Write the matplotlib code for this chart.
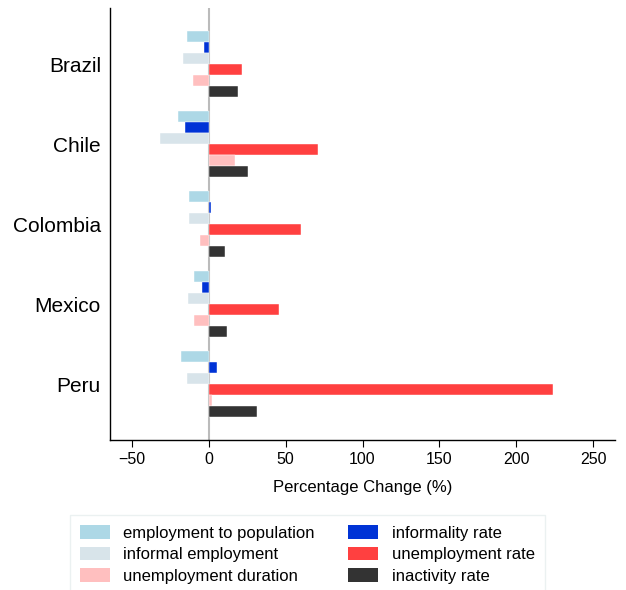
import numpy as np
import matplotlib.pyplot as plt
from matplotlib.patches import Patch

plt.rcParams['font.family'] = ['Liberation Sans', 'DejaVu Sans']

countries = ['Brazil', 'Chile', 'Colombia', 'Mexico', 'Peru']
series = ['employment to population', 'informality rate', 'informal employment',
          'unemployment rate', 'unemployment duration', 'inactivity rate']
colors = ['#add8e6', '#0033d6', '#d8e4ea', '#ff4040', '#ffbfbf', '#333333']

emp_to_pop = [-13.8, -19.7, -12.5, -9.3, -17.7]
informality = [-2.8, -15.1, 1.5, -4.1, 5.6]
informal_emp = [-16.4, -31.3, -12.5, -13.2, -13.8]
unemp_rate = [21.9, 71.2, 60.1, 45.9, 223.6]
unemp_duration = [-9.9, 17.3, -5.4, -9.3, 2.4]
inactivity = [19.3, 25.8, 10.8, 12.1, 31.6]

values = [emp_to_pop, informality, informal_emp, unemp_rate, unemp_duration, inactivity]

fig = plt.figure(figsize=(6.26, 5.9), dpi=100)
ax = fig.add_axes([110 / 626, 1 - 440 / 590, 505 / 626, 432 / 590])

pos = np.arange(len(countries))
h = 0.1375
for i, (name, vals, c) in enumerate(zip(series, values, colors)):
    ax.barh(pos + (i - 2.5) * h, vals, height=h, color=c, edgecolor='white',
            linewidth=0.3, zorder=2, label=name)

ax.axvline(0, color='#bbbbbb', linewidth=1.5, zorder=1)

ax.set_ylim(4.7, -0.7)
ax.set_xlim(-64, 264)
ax.set_yticks(pos)
ax.set_yticklabels(countries, fontsize=15)
ax.set_xticks([-50, 0, 50, 100, 150, 200, 250])
ax.set_xticklabels(['\u221250', '0', '50', '100', '150', '200', '250'], fontsize=11.5)
ax.tick_params(axis='y', length=0, pad=6.5)
ax.tick_params(axis='x', length=5, width=0.8, pad=4)
ax.set_xlabel('Percentage Change (%)', fontsize=12, labelpad=9)

for s in ['top', 'right']:
    ax.spines[s].set_visible(False)
for s in ['left', 'bottom']:
    ax.spines[s].set_linewidth(1.0)

# legend filled row-wise like the original
order = [0, 2, 4, 1, 3, 5]
handles = [Patch(facecolor=colors[k], edgecolor='none') for k in order]
labels = [series[k] for k in order]
leg = fig.legend(handles, labels, loc='upper left',
                 bbox_to_anchor=(70 / 626, 1 - 515 / 590), ncol=2,
                 fontsize=12, frameon=True, fancybox=False, borderaxespad=0,
                 handlelength=1.8, handleheight=0.9, handletextpad=0.8,
                 columnspacing=2.0, labelspacing=0.35, borderpad=0.6)
leg.get_frame().set_edgecolor('#e6eeee')
leg.get_frame().set_linewidth(1.0)

fig.savefig('out.png', dpi=100)
